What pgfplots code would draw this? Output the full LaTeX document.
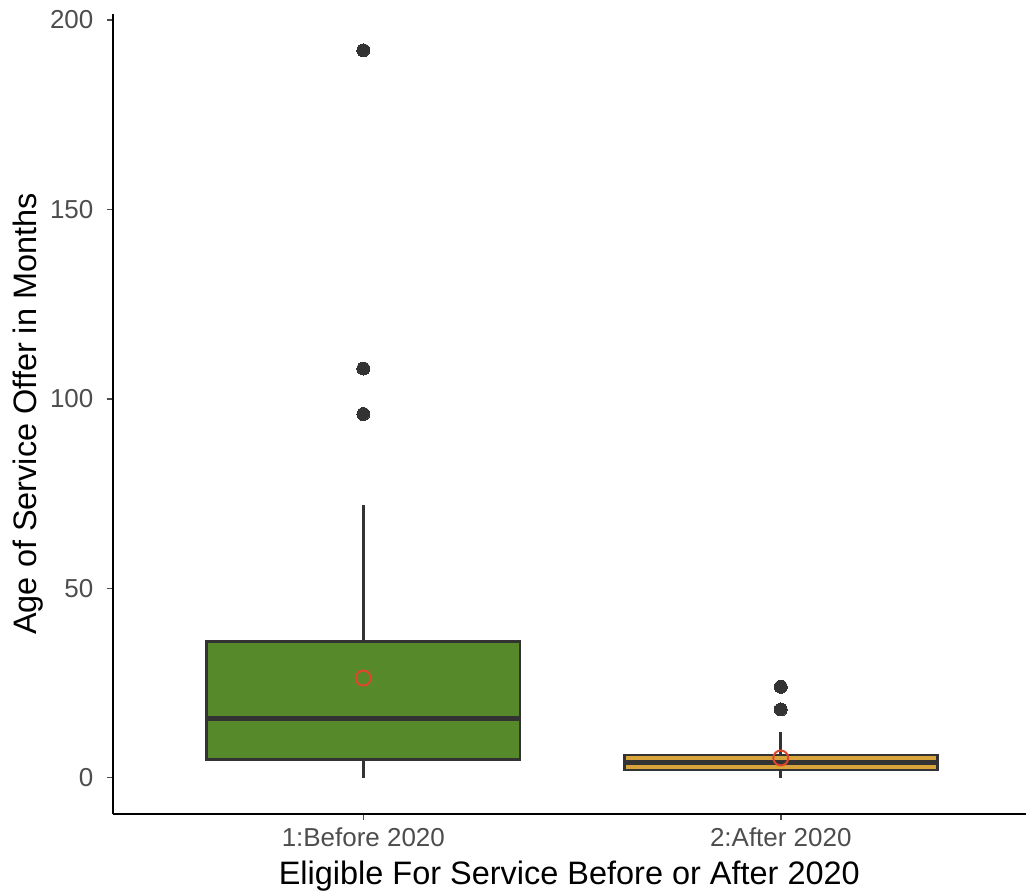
\documentclass[border=0pt]{standalone}
\usepackage{fontspec}
\setmainfont{Liberation Sans}
\usepackage{pgfplots}
\pgfplotsset{compat=1.18}
\usepgfplotslibrary{statistics}
\definecolor{boxgreen}{HTML}{55892A}
\definecolor{boxorange}{HTML}{D9A33C}
\definecolor{edge}{HTML}{333333}
\definecolor{meanred}{HTML}{E0462A}
\definecolor{ticklab}{HTML}{4D4D4D}
\begin{document}
\begin{tikzpicture}
\begin{axis}[
  name=ax,
  scale only axis, width=914pt, height=801pt,
  xmin=0.4, xmax=2.587, ymin=-9.6, ymax=201.6,
  axis lines*=left,
  axis line style={line width=2.4pt, black},
  xtick={1,2}, xticklabels={1:Before 2020, 2:After 2020},
  ytick={0,50,100,150,200},
  tick style={ticklab, line width=1.5pt},
  tick align=outside, major tick length=6pt,
  ticklabel style={font=\fontsize{26}{30}\selectfont, text=ticklab},
  xticklabel style={yshift=-4pt},
  yticklabel style={xshift=-10pt},
  /pgf/number format/assume math mode=true,
  xlabel={Eligible For Service Before or After 2020},
  ylabel={Age of Service Offer in Months},
  every axis y label/.style={at={(axis description cs:-0.093,0.5)}, rotate=90, anchor=center, font=\fontsize{32.5}{36}\selectfont},
  every axis x label/.style={at={(axis description cs:0.5,-0.0886)}, anchor=base, font=\fontsize{32.5}{36}\selectfont},
  boxplot/draw direction=y,
  boxplot/box extend=0.75,
  boxplot/whisker extend=0,
  boxplot/every median/.style={line width=5pt},
  clip=false,
]
\addplot[boxplot prepared={draw position=1, lower whisker=0, lower quartile=4.75,
    median=15.5, upper quartile=36, upper whisker=72},
  draw=edge, fill=boxgreen, line width=2.6pt,
  mark=*, mark size=6.5pt, mark options={fill=edge, draw=edge, line width=0pt}]
  coordinates {(0,192) (0,108) (0,96)};
\addplot[boxplot prepared={draw position=2, lower whisker=0, lower quartile=2,
    median=4, upper quartile=6, upper whisker=12},
  draw=edge, fill=boxorange, line width=2.6pt,
  mark=*, mark size=6.5pt, mark options={fill=edge, draw=edge, line width=0pt}]
  coordinates {(0,24) (0,18)};
\addplot[only marks, mark=o, mark size=7.5pt, meanred, line width=2pt]
  coordinates {(1,26.3) (2,5.2)};
\end{axis}
\path (ax.south west) ++(-113pt,-78pt);
\path (ax.north east) ++(0pt,14pt);
\end{tikzpicture}
\end{document}
